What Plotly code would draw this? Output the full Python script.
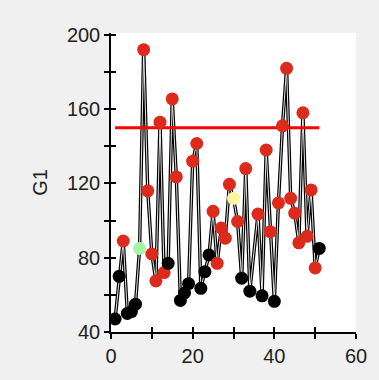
import plotly.graph_objects as go

# ---- data ----
x_vals = [1, 2, 3, 4, 5, 6, 7, 8, 9, 10,
          11, 12, 13, 14, 15, 16, 17, 18, 19, 20,
          21, 22, 23, 24, 25, 26, 27, 28, 29, 30,
          31, 32, 33, 34, 36, 37, 38, 39, 40, 41,
          42, 43, 44, 45, 46, 47, 48, 49, 50, 51]
g1_vals = [47, 70, 89, 50, 51, 55, 85, 192, 116, 82,
           67.5, 153, 72, 77, 165.5, 123.5, 57, 61, 66, 132,
           141.5, 63.5, 72.5, 81.5, 105, 77, 96, 90.5, 119.5, 112,
           99.5, 69, 128, 62, 103.5, 59.5, 138, 94, 56.5, 109.5,
           151, 182, 112, 104, 88, 158, 91.5, 116.5, 74.5, 85]
status = ['lo', 'lo', 'hi', 'lo', 'lo', 'lo', 'g', 'hi', 'hi', 'hi',
          'hi', 'hi', 'hi', 'lo', 'hi', 'hi', 'lo', 'lo', 'lo', 'hi',
          'hi', 'lo', 'lo', 'lo', 'hi', 'hi', 'hi', 'hi', 'hi', 'y',
          'hi', 'lo', 'hi', 'lo', 'hi', 'lo', 'hi', 'hi', 'lo', 'hi',
          'hi', 'hi', 'hi', 'hi', 'hi', 'hi', 'hi', 'hi', 'hi', 'lo']
threshold = 150
x_ticks = [0, 10, 20, 30, 40, 50, 60]
x_ticktext = ['0', '', '20', '', '40', '', '60']
y_ticks = [40, 60, 80, 100, 120, 140, 160, 180, 200]
y_ticktext = ['40', '', '80', '', '120', '', '160', '', '200']

color_map = {'lo': '#000000', 'hi': '#dc2a1c', 'g': '#a6f5a6', 'y': '#fbf5a0'}
colors = [color_map[s] for s in status]

fig = go.Figure()
fig.add_trace(go.Scatter(x=x_vals, y=g1_vals, mode='lines',
                         line=dict(color='black', width=3.4), hoverinfo='skip'))
fig.add_trace(go.Scatter(x=x_vals, y=g1_vals, mode='lines',
                         line=dict(color='white', width=0.9), hoverinfo='skip'))
fig.add_trace(go.Scatter(x=[x_vals[0], x_vals[-1]], y=[threshold, threshold],
                         mode='lines', line=dict(color='#ff0000', width=3)))
fig.add_trace(go.Scatter(x=x_vals, y=g1_vals, mode='markers',
                         marker=dict(color=colors, size=13, line=dict(width=0))))

font = dict(family='Liberation Sans, Arial, sans-serif', size=20, color='#222222')
common_x = dict(range=[0, 60], tickvals=x_ticks, showgrid=False, zeroline=False,
                ticklen=5, tickwidth=1.5, tickcolor='black')
common_y = dict(range=[40, 201], tickvals=y_ticks, showgrid=False, zeroline=False,
                ticklen=5, tickwidth=1.5, tickcolor='black')

fig.update_layout(
    width=379, height=380,
    margin=dict(l=111, r=16, t=33, b=48),
    paper_bgcolor='#f0f0f0', plot_bgcolor='white',
    showlegend=False, font=font,
    xaxis=dict(**common_x, ticktext=x_ticktext, ticks='outside',
               showline=True, linecolor='black', linewidth=1.5,
               tickfont=font),
    yaxis=dict(**common_y, ticktext=y_ticktext, ticks='outside',
               showline=True, linecolor='black', linewidth=1.5,
               tickfont=font, title=dict(text='G1', font=font, standoff=14)),
    xaxis2=dict(**common_x, overlaying='x', ticks='inside', showticklabels=False,
                side='bottom', anchor='y'),
    yaxis2=dict(**common_y, overlaying='y', ticks='inside', showticklabels=False,
                side='left', anchor='x'),
)
# dummy trace to activate the overlay axes
fig.add_trace(go.Scatter(x=[None], y=[None], xaxis='x2', yaxis='y2', showlegend=False))

fig.write_html('out.html')
